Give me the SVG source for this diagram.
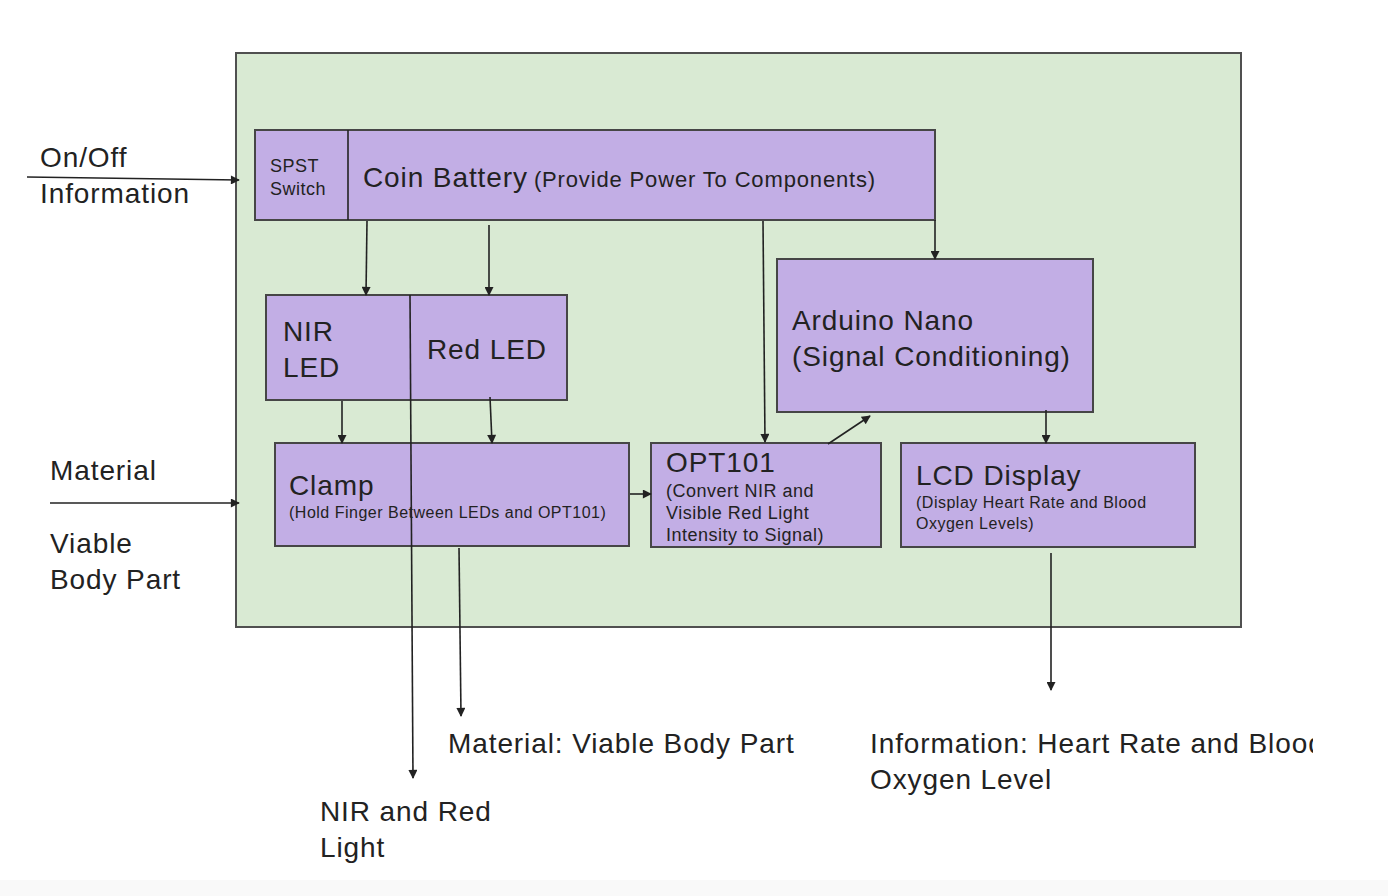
<svg xmlns="http://www.w3.org/2000/svg" width="1388" height="896" viewBox="0 0 1388 896">
<style>
.box{fill:#c2aee5;stroke:#464646;stroke-width:2}
.frame{fill:#d9ead3;stroke:#505050;stroke-width:2}
text{font-family:"Liberation Sans",Arial,sans-serif;fill:#222}
.big{font-size:28px;letter-spacing:0.9px}
.mid{font-size:22px;letter-spacing:0.85px}
.sm{font-size:18px;letter-spacing:0.5px}
.xs{font-size:16px;letter-spacing:0.5px}
.ln{stroke:#222;stroke-width:1.6;fill:none;marker-end:url(#ah)}
</style>
<defs>
<marker id="ah" viewBox="0 0 10 10" refX="9" refY="5" markerWidth="10" markerHeight="9" orient="auto" markerUnits="userSpaceOnUse">
<path d="M0,0 L10,5 L0,10 z" fill="#222"/>
</marker>
<clipPath id="clipInfo"><rect x="860" y="700" width="453" height="120"/></clipPath>
</defs>
<rect width="1388" height="896" fill="#fff"/>
<rect x="0" y="880" width="1388" height="16" fill="#f9f9f9"/>
<g id="system">
<rect class="frame" x="236" y="53" width="1005" height="574"/>
</g>
<g id="coin-battery">
<rect class="box" x="255" y="130" width="680" height="90"/>
<line x1="348" y1="130" x2="348" y2="220" stroke="#222" stroke-width="1.6"/>
<text class="sm" x="270" y="172">SPST</text>
<text class="sm" x="270" y="195">Switch</text>
<text x="363" y="187"><tspan class="big">Coin Battery</tspan><tspan class="mid" dx="6">(Provide Power To Components)</tspan></text>
</g>
<g id="leds">
<rect class="box" x="266" y="295" width="301" height="105"/>
<text class="big" x="283" y="341">NIR</text>
<text class="big" x="283" y="377">LED</text>
<text class="big" x="427" y="359">Red LED</text>
</g>
<g id="arduino">
<rect class="box" x="777" y="259" width="316" height="153"/>
<text class="big" x="792" y="330">Arduino Nano</text>
<text class="big" x="792" y="366">(Signal Conditioning)</text>
</g>
<g id="clamp">
<rect class="box" x="275" y="443" width="354" height="103"/>
<text class="big" x="289" y="495">Clamp</text>
<text class="xs" x="289" y="518">(Hold Finger Between LEDs and OPT101)</text>
</g>
<g id="opt101">
<rect class="box" x="651" y="443" width="230" height="104"/>
<text class="big" x="666" y="472">OPT101</text>
<text class="sm" x="666" y="497">(Convert NIR and</text>
<text class="sm" x="666" y="519">Visible Red Light</text>
<text class="sm" x="666" y="541">Intensity to Signal)</text>
</g>
<g id="lcd">
<rect class="box" x="901" y="443" width="294" height="104"/>
<text class="big" x="916" y="485">LCD Display</text>
<text class="xs" x="916" y="508">(Display Heart Rate and Blood</text>
<text class="xs" x="916" y="529">Oxygen Levels)</text>
</g>
<g id="labels">
<text class="big" x="40" y="167">On/Off</text>
<text class="big" x="40" y="203">Information</text>
<text class="big" x="50" y="480">Material</text>
<text class="big" x="50" y="553">Viable</text>
<text class="big" x="50" y="589">Body Part</text>
<text class="big" x="448" y="753">Material: Viable Body Part</text>
<text class="big" x="320" y="821">NIR and Red</text>
<text class="big" x="320" y="857">Light</text>
<g clip-path="url(#clipInfo)">
<text class="big" x="870" y="753">Information: Heart Rate and Blood</text>
</g>
<text class="big" x="870" y="789">Oxygen Level</text>
</g>
<g id="connectors">
<line class="ln" x1="27" y1="177" x2="239" y2="180"/>
<line class="ln" x1="50" y1="503" x2="239" y2="503"/>
<line class="ln" x1="367" y1="221" x2="366" y2="295"/>
<line class="ln" x1="489" y1="225" x2="489" y2="295"/>
<line class="ln" x1="763" y1="221" x2="765" y2="442"/>
<line class="ln" x1="935" y1="220" x2="935" y2="259"/>
<line class="ln" x1="342" y1="401" x2="342" y2="443"/>
<line class="ln" x1="490" y1="397" x2="492" y2="443"/>
<line class="ln" x1="630" y1="494" x2="651" y2="494"/>
<line class="ln" x1="828" y1="444" x2="870" y2="416"/>
<line class="ln" x1="1046" y1="410" x2="1046" y2="443"/>
<line class="ln" x1="1051" y1="553" x2="1051" y2="690"/>
<line class="ln" x1="459" y1="548" x2="461" y2="716"/>
<line class="ln" x1="410" y1="295" x2="413" y2="778"/>
</g>
</svg>
